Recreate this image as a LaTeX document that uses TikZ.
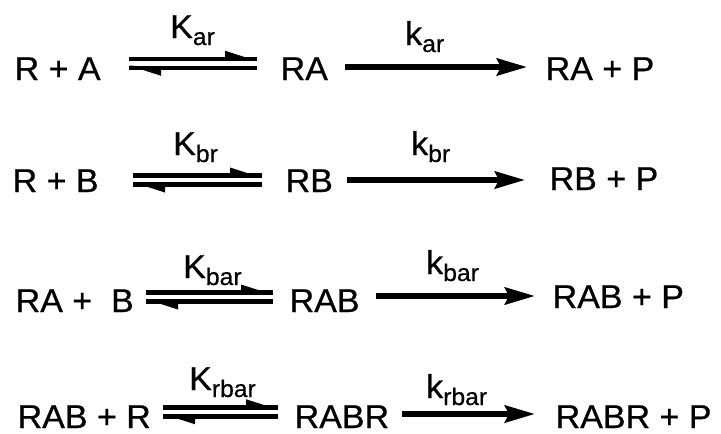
\documentclass[tikz,border=0pt]{standalone}
\usepackage{fontspec}
\setmainfont{Liberation Sans}[FakeStretch=1.03,FakeBold=0.6]
\usetikzlibrary{arrows.meta}
\newcommand\Sub[1]{\raisebox{-7pt}{\fontsize{24}{28}\selectfont #1}}
\newcommand\Equil[4]{%
  \coordinate (#1a) at (#2,#4);
  \coordinate (#1b) at (#3,#4);
  \draw[eqline] ([yshift=4.5pt]#1a) -- ([yshift=4.5pt]#1b);
  \fill ([yshift=2.25pt]#1b) -- ([shift={(-32pt,12.5pt)}]#1b) -- ([shift={(-32pt,4.5pt)}]#1b) -- cycle;
  \draw[eqline] ([yshift=-4.5pt]#1a) -- ([yshift=-4.5pt]#1b);
  \fill ([yshift=-2.25pt]#1a) -- ([shift={(32pt,-12.5pt)}]#1a) -- ([shift={(32pt,-4.5pt)}]#1a) -- cycle;
}
\begin{document}
\begin{tikzpicture}[x=1pt,y=-1pt,
  txt/.style={anchor=base west,inner sep=0pt,font=\fontsize{33}{40}\selectfont},
  eqline/.style={line width=4.5pt},
  fwd/.style={line width=5.5pt,-{Stealth[length=30pt,width=17pt,inset=4pt]}}]
\useasboundingbox (0,0) rectangle (721,434);

% Row 1
\node[txt] (r1) at (14.5,80) {R + A};
\node[txt] (c1) at (280.5,80) {RA};
\node[txt] (p1) at (545.5,80) {RA + P};
\node[txt] (K1) at (170,38) {K\Sub{ar}};
\node[txt] (k1) at (405,45) {k\Sub{ar}};
\Equil{e1}{129}{257}{63.25}
\coordinate (f1a) at (345,67);
\coordinate (f1b) at (527,67);
\draw[fwd] (f1a) -- (f1b);

% Row 2
\node[txt] (r2) at (12.5,192) {R + B};
\node[txt] (c2) at (285.5,192) {RB};
\node[txt] (p2) at (549.5,190) {RB + P};
\node[txt] (K2) at (173,155) {K\Sub{br}};
\node[txt] (k2) at (411,155) {k\Sub{br}};
\Equil{e2}{133}{262}{180}
\coordinate (f2a) at (347,180);
\coordinate (f2b) at (525,180);
\draw[fwd] (f2a) -- (f2b);

% Row 3
\node[txt] (r3) at (15.5,312) {RA +\ \ B};
\node[txt] (c3) at (289.5,312) {RAB};
\node[txt] (p3) at (552.5,308) {RAB + P};
\node[txt] (K3) at (183,278) {K\Sub{bar}};
\node[txt] (k3) at (426,274) {k\Sub{bar}};
\Equil{e3}{146}{273}{297}
\coordinate (f3a) at (376,296);
\coordinate (f3b) at (535,296);
\draw[fwd] (f3a) -- (f3b);

% Row 4
\node[txt] (r4) at (17.5,428) {RAB + R};
\node[txt] (c4) at (294.5,428) {RABR};
\node[txt] (p4) at (555.5,428) {RABR + P};
\node[txt] (K4) at (189,390) {K\Sub{rbar}};
\node[txt] (k4) at (426,398) {k\Sub{rbar}};
\Equil{e4}{163}{278}{411.75}
\coordinate (f4a) at (402,414);
\coordinate (f4b) at (535,414);
\draw[fwd] (f4a) -- (f4b);
\end{tikzpicture}
\end{document}
